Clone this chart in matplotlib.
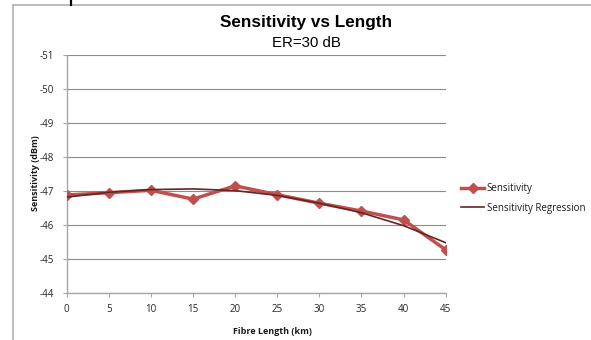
import matplotlib
matplotlib.use("Agg")
import matplotlib.pyplot as plt
from matplotlib.lines import Line2D

# Fibre length (km) and measured receiver sensitivity (dBm)
length_km = [0, 5, 10, 15, 20, 25, 30, 35, 40, 45]
sensitivity = [-46.87, -46.94, -47.01, -46.75, -47.14, -46.88, -46.63, -46.40, -46.14, -45.26]
# Polynomial trend of the sensitivity, evaluated at the same lengths
sensitivity_regression = [-46.81, -46.95, -47.03, -47.05, -47.00, -46.86, -46.63, -46.35, -45.97, -45.47]

x_ticks = [0, 5, 10, 15, 20, 25, 30, 35, 40, 45]
y_ticks = [-51, -50, -49, -48, -47, -46, -45, -44]

W, H = 591, 340
fig = plt.figure(figsize=(W / 100, H / 100), dpi=100)
fig.patch.set_facecolor("white")

# chart frame (top and left edges visible)
frame_col = "#B8B8B8"
fig.add_artist(Line2D([12.7 / W, 1.0], [1 - 5 / H, 1 - 5 / H], color=frame_col, lw=1.3,
                      transform=fig.transFigure))
fig.add_artist(Line2D([12.7 / W, 12.7 / W], [0.0, 1 - 5 / H], color=frame_col, lw=1.3,
                      transform=fig.transFigure))
fig.add_artist(Line2D([71 / W, 71 / W], [1 - 5 / H, 1.0], color="black", lw=1.6,
                      transform=fig.transFigure))

left, right, top, bottom = 66.7, 445.7, 54.5, 292.7
ax = fig.add_axes([left / W, 1 - bottom / H, (right - left) / W, (bottom - top) / H])

red = "#C0504D"
dark = "#632523"
ax.plot(length_km, sensitivity, color=red, lw=2.5, marker="D", ms=4.8,
        markeredgecolor=red, label="Sensitivity", zorder=3, solid_joinstyle="round")
ax.plot(length_km, sensitivity_regression, color=dark, lw=1.2,
        label="Sensitivity Regression", zorder=4)

ax.set_xlim(0, 45)
ax.set_ylim(-44, -51)
ax.set_xticks(x_ticks)
ax.set_yticks(y_ticks)
ax.set_xticklabels([str(v) for v in x_ticks])
ax.set_yticklabels([str(v) for v in y_ticks])

grid_col = "#8C8C8C"
ax.grid(axis="y", color=grid_col, lw=0.8)
ax.set_axisbelow(True)
for s in ("top", "right"):
    ax.spines[s].set_visible(False)
for s in ("left", "bottom"):
    ax.spines[s].set_color("#A6A6A6")
    ax.spines[s].set_linewidth(1.0)

font = "Open Sans"
ax.tick_params(axis="both", colors="#A6A6A6", labelcolor="#262626", length=3,
               direction="out", labelsize=7, width=0.8)
ax.tick_params(axis="x", pad=5)
ax.tick_params(axis="y", pad=6)
for lab in ax.get_xticklabels() + ax.get_yticklabels():
    lab.set_fontfamily(font)

fig.text(272 / W, 1 - 331 / H, "Fibre Length (km)", ha="center", va="center",
         fontsize=6.5, fontweight="bold", family=font, color="#1a1a1a")
fig.text(35 / W, 1 - 173 / H, "Sensitivity (dBm)", ha="center", va="center",
         rotation=90, fontsize=6.5, fontweight="bold", family=font, color="#1a1a1a")

fig.text(306 / W, 1 - 22 / H, "Sensitivity vs Length", ha="center", va="center",
         fontsize=12.3, fontweight="bold", family="Liberation Sans", color="black")
fig.text(306 / W, 1 - 43 / H, "ER=30 dB", ha="center", va="center",
         fontsize=10.8, family="Liberation Sans", color="black")

leg = fig.legend(loc="upper left", bbox_to_anchor=(461 / W, 1 - 183 / H), frameon=False,
                 prop={"family": font, "size": 7}, handlelength=2.4, handletextpad=0.25,
                 labelspacing=0.9, borderaxespad=0, borderpad=0)
for t in leg.get_texts():
    t.set_color("#1a1a1a")

fig.savefig("out.png", dpi=100, facecolor="white")
